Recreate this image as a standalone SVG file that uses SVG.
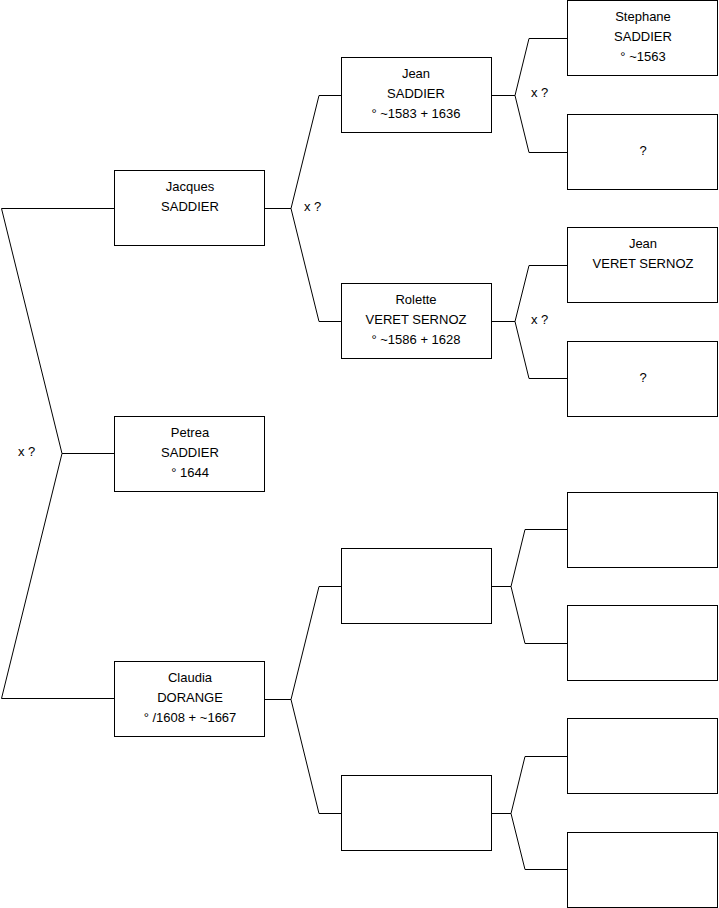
<svg xmlns="http://www.w3.org/2000/svg" width="719" height="908" viewBox="0 0 719 908">
<style>
.box{fill:#fff;stroke:#000;stroke-width:1}
.c{fill:none;stroke:#000;stroke-width:1}
text{font-family:"Liberation Sans",Arial,sans-serif;font-size:13px;fill:#000;text-anchor:middle}
.lbl{text-anchor:start}
</style>
<rect width="719" height="908" fill="#fff"/>
<g id="connectors">
<path class="c" d="M1.5,208.5H114M1.5,208.5L62,453.5L1.5,698.5M62,453.5H114M1.5,698.5H114"/>
<path class="c" d="M265,208.5H291M319,95.5L291,208.5L319,321.5M319,95.5H341M319,321.5H341"/>
<path class="c" d="M265,699.5H291M319,586.5L291,699.5L319,813.5M319,586.5H341M319,813.5H341"/>
<path class="c" d="M491,95.5H515M529,38.5L515,95.5L529,152.5M529,38.5H567M529,152.5H567"/>
<path class="c" d="M491,321.5H515M529,265.5L515,321.5L529,378.5M529,265.5H567M529,378.5H567"/>
<path class="c" d="M491,586.5H511M525,529.5L511,586.5L525,643.5M525,529.5H567M525,643.5H567"/>
<path class="c" d="M491,813.5H511M525,756.5L511,813.5L525,869.5M525,756.5H567M525,869.5H567"/>
<text class="lbl" x="18" y="456">x ?</text>
<text class="lbl" x="304" y="211">x ?</text>
<text class="lbl" x="531" y="97">x ?</text>
<text class="lbl" x="531" y="324">x ?</text>
</g>
<g id="jacques"><rect class="box" x="114.5" y="170.5" width="150" height="75"/><text x="190" y="191">Jacques</text><text x="190" y="211">SADDIER</text></g>
<g id="petrea"><rect class="box" x="114.5" y="416.5" width="150" height="75"/><text x="190" y="437">Petrea</text><text x="190" y="457">SADDIER</text><text x="190" y="477">° 1644</text></g>
<g id="claudia"><rect class="box" x="114.5" y="661.5" width="150" height="75"/><text x="190" y="682">Claudia</text><text x="190" y="702">DORANGE</text><text x="190" y="722">° /1608 + ~1667</text></g>
<g id="jean"><rect class="box" x="341.5" y="57.5" width="150" height="75"/><text x="416" y="78">Jean</text><text x="416" y="98">SADDIER</text><text x="416" y="118">° ~1583 + 1636</text></g>
<g id="rolette"><rect class="box" x="341.5" y="283.5" width="150" height="75"/><text x="416" y="304">Rolette</text><text x="416" y="324">VERET SERNOZ</text><text x="416" y="344">° ~1586 + 1628</text></g>
<g id="m3"><rect class="box" x="341.5" y="548.5" width="150" height="75"/></g>
<g id="m4"><rect class="box" x="341.5" y="775.5" width="150" height="75"/></g>
<g id="stephane"><rect class="box" x="567.5" y="0.5" width="150" height="75"/><text x="643" y="21">Stephane</text><text x="643" y="41">SADDIER</text><text x="643" y="61">° ~1563</text></g>
<g id="r2"><rect class="box" x="567.5" y="114.5" width="150" height="75"/><text x="643" y="155">?</text></g>
<g id="jeanveret"><rect class="box" x="567.5" y="227.5" width="150" height="75"/><text x="643" y="248">Jean</text><text x="643" y="268">VERET SERNOZ</text></g>
<g id="r4"><rect class="box" x="567.5" y="341.5" width="150" height="75"/><text x="643" y="382">?</text></g>
<g id="r5"><rect class="box" x="567.5" y="492.5" width="150" height="75"/></g>
<g id="r6"><rect class="box" x="567.5" y="605.5" width="150" height="75"/></g>
<g id="r7"><rect class="box" x="567.5" y="718.5" width="150" height="75"/></g>
<g id="r8"><rect class="box" x="567.5" y="832.5" width="150" height="75"/></g>
</svg>
